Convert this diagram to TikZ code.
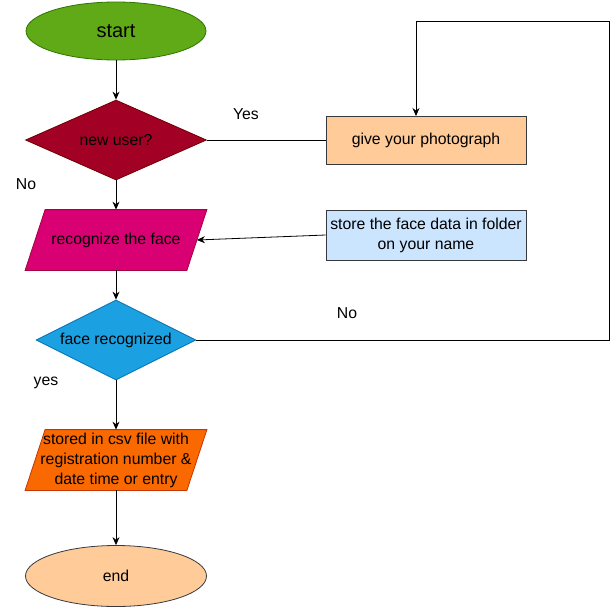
\documentclass[tikz,border=0pt]{standalone}
\usepackage{fontspec}
\setmainfont{Liberation Sans}
\usetikzlibrary{shapes.geometric,arrows.meta,backgrounds}
\definecolor{cStartF}{HTML}{60A917}
\definecolor{cStartD}{HTML}{2D7600}
\definecolor{cNewF}{HTML}{A20025}
\definecolor{cNewD}{HTML}{6F0000}
\definecolor{cPeach}{HTML}{FFCC99}
\definecolor{cGrayD}{HTML}{36393D}
\definecolor{cRecF}{HTML}{D80073}
\definecolor{cRecD}{HTML}{A50040}
\definecolor{cStoreF}{HTML}{CCE5FF}
\definecolor{cFaceF}{HTML}{1BA1E2}
\definecolor{cFaceD}{HTML}{006EAF}
\definecolor{cCsvF}{HTML}{FA6800}
\definecolor{cCsvD}{HTML}{C73500}
\tikzset{
  base/.style={inner sep=0pt, font=\fontsize{15.8}{20}\selectfont, align=center, line width=0.8pt},
  oval/.style={base, ellipse, minimum width=180pt, minimum height=58pt},
  dia/.style={base, diamond, aspect=2},
  paratext/.style={base, rectangle, minimum width=161pt, minimum height=60pt},
  paraedge/.style={line width=0.8pt},
  procbox/.style={base, rectangle, minimum width=200pt, minimum height=48pt, draw=cGrayD},
  lbl/.style={inner sep=0pt, font=\fontsize{15.8}{18}\selectfont},
  conn/.style={line width=0.8pt, draw=black},
  arr/.style={conn, -{Stealth[length=8pt,width=7pt]}}
}
\begin{document}
\begin{tikzpicture}[x=1pt,y=-1pt]
\useasboundingbox (0,0) rectangle (611,606);
\node[oval, fill=cStartF, draw=cStartD, font=\fontsize{20}{24}\selectfont] (start) at (116,31) {start};
\node[dia, fill=cNewF, draw=cNewD, minimum width=181pt, minimum height=80pt] (newu) at (116,140) {new user?};
\node[procbox, fill=cPeach] (photo) at (426,140) {give your photograph};
\node[paratext] (recog) at (116,240) {recognize the face};
\node[procbox, fill=cStoreF, minimum height=50pt] (store) at (426,235) {store the face data in folder\\on your name};
\node[dia, fill=cFaceF, draw=cFaceD, minimum width=160pt, minimum height=80pt] (face) at (116,340) {face recognized};
\node[paratext] (csv) at (116,460) {stored in csv file with\\registration number \&\\date time or entry};
\node[oval, fill=cPeach, draw=cGrayD, minimum width=181pt, minimum height=61pt] (end) at (116,576) {end};

\begin{scope}[on background layer]
\filldraw[paraedge, fill=cRecF, draw=cRecD]
  ([xshift=-10pt]recog.south west) -- ([xshift=-10pt]recog.south east) --
  ([xshift=10pt]recog.north east) -- ([xshift=10pt]recog.north west) -- cycle;
\filldraw[paraedge, fill=cCsvF, draw=cCsvD]
  ([xshift=-10pt]csv.south west) -- ([xshift=-10pt]csv.south east) --
  ([xshift=10pt]csv.north east) -- ([xshift=10pt]csv.north west) -- cycle;
\end{scope}

\node[lbl] (lyes) at (246,114) {Yes};
\node[lbl] (lno1) at (26,184) {No};
\node[lbl] (lno2) at (347,313) {No};
\node[lbl] (lyes2) at (46,383) {yes};

\coordinate (c1) at (609,340);
\coordinate (c2) at (609,21);
\coordinate (c3) at (416,21);
\coordinate (c4) at (416,116);

\draw[arr] (start) -- (newu);
\draw[conn] (newu.east) -- (photo.west);
\draw[arr] (newu) -- (recog);
\draw[arr] (store.west) -- (recog.east);
\draw[arr] (recog) -- (face);
\draw[arr] (face) -- (csv);
\draw[arr] (csv) -- (end);
\draw[conn] (face.east) -- (c1) -- (c2) -- (c3);
\draw[arr] (c3) -- (c4);
\end{tikzpicture}
\end{document}
